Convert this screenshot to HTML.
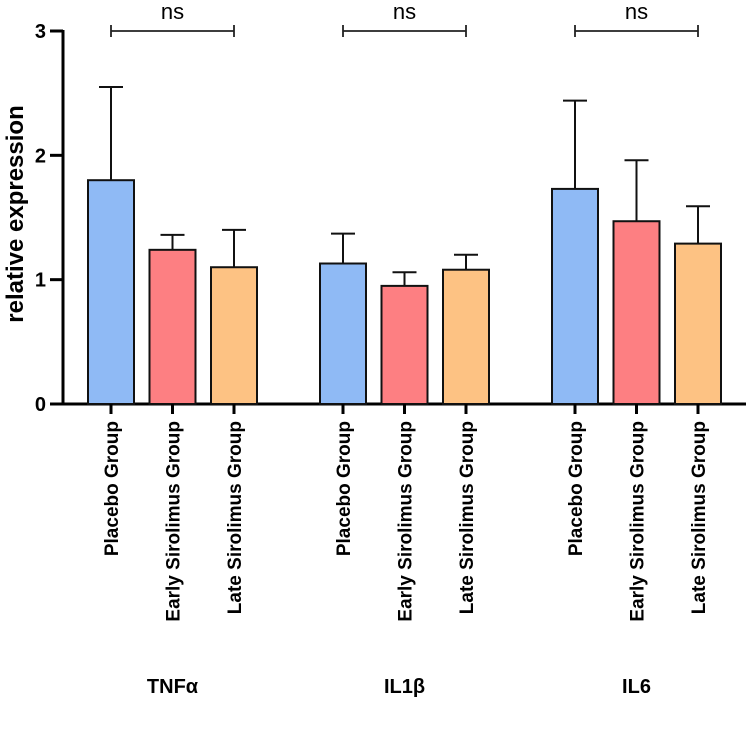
<!DOCTYPE html>
<html><head><meta charset="utf-8"><style>
body{margin:0;background:#fff}
svg{display:block;font-family:"Liberation Sans",Arial,sans-serif}
</style></head><body>
<svg id="chart" width="749" height="732" viewBox="0 0 749 732" xmlns="http://www.w3.org/2000/svg"></svg>
<script>
const groups=["TNFα","IL1β","IL6"];
const seriesNames=["Placebo Group","Early Sirolimus Group","Late Sirolimus Group"];
const means=[[1.80,1.24,1.10],[1.13,0.95,1.08],[1.73,1.47,1.29]];
const errTops=[[2.55,1.36,1.40],[1.37,1.06,1.20],[2.44,1.96,1.59]];
const yTicks=[0,1,2,3];
const sigLabels=["ns","ns","ns"];
const colors=["#8fbaf5","#fd7f82","#fdc283"];
const NS="http://www.w3.org/2000/svg";
const svg=document.getElementById('chart');
const y0=404,y3=31;
const y=v=>y0-(y0-y3)*v/3;
const xc=(g,s)=>111+g*232+s*61.5;
function el(t,a,txt){const e=document.createElementNS(NS,t);for(const k in a)e.setAttribute(k,a[k]);if(txt!=null)e.textContent=txt;svg.appendChild(e);return e;}
let ax=el('line',{x1:63,y1:y3-1,x2:63,y2:y0+1.5,stroke:'#000','stroke-width':3});


let bx=el('line',{x1:61.5,y1:y0,x2:746,y2:y0,stroke:'#000','stroke-width':3});


yTicks.forEach(t=>{
 let l=el('line',{x1:50,y1:y(t),x2:63,y2:y(t),stroke:'#000','stroke-width':3});
 
 
 let tx=el('text',{x:46,y:y(t)+7,'text-anchor':'end','font-size':20,'font-weight':'bold'},t);
 
 
});
let yt=el('text',{x:0,y:0,transform:'translate(23,214) rotate(-90)','text-anchor':'middle','font-size':24,'font-weight':'bold'},'relative expression');


groups.forEach((g,gi)=>{
 seriesNames.forEach((s,si)=>{
  const cx=xc(gi,si);
  let eb=el('path',{d:`M${cx},${y(means[gi][si])}V${y(errTops[gi][si])}M${cx-12},${y(errTops[gi][si])}H${cx+12}`,stroke:'#111','stroke-width':2,fill:'none'});
  
  
  let b=el('rect',{x:cx-23,y:y(means[gi][si]),width:46,height:y0-y(means[gi][si]),fill:colors[si],stroke:'#111','stroke-width':2});
  
  
  let tk=el('line',{x1:cx,y1:y0,x2:cx,y2:y0+10,stroke:'#000','stroke-width':3});
  
  
  let lb=el('text',{x:0,y:0,transform:`translate(${cx+7},421) rotate(-90)`,'text-anchor':'end','font-size':19,'font-weight':'bold'},s);
  
  
 });
 const a=xc(gi,0),c=xc(gi,2);
 let br=el('path',{d:`M${a},${y3}H${c}M${a},${y3-6}V${y3+6}M${c},${y3-6}V${y3+6}`,stroke:'#222','stroke-width':1.8,fill:'none'});
 
 
 let ns=el('text',{x:(a+c)/2,y:19,'text-anchor':'middle','font-size':22},sigLabels[gi]);
 
 
 let gl=el('text',{x:xc(gi,1),y:693,'text-anchor':'middle','font-size':20,'font-weight':'bold'},g);
 
 
});
</script>
</body></html>
